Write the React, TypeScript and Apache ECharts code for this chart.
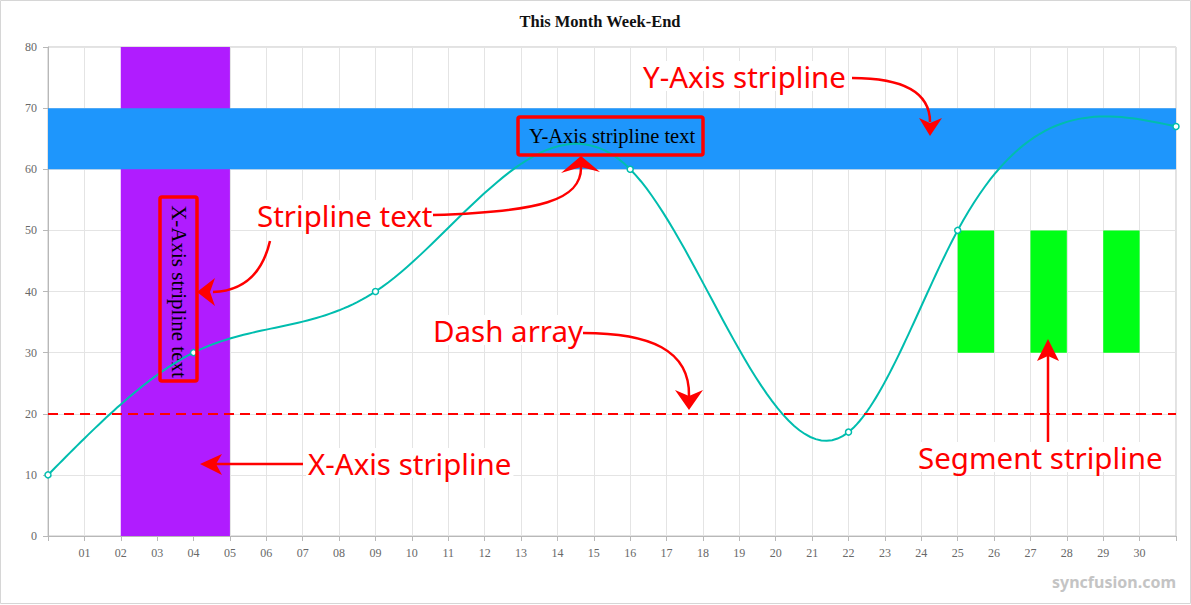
import React, { useEffect, useRef } from 'react';
import * as echarts from 'echarts';

const chartTitle = 'This Month Week-End';
const days = [0, 4, 9, 16, 22, 25, 31];
const values = [10, 30, 40, 60, 17, 50, 67];
const xAxisRange = [0, 31];
const yAxisRange = [0, 80];
const xStrip = [2, 5];
const xStripText = 'X-Axis stripline text';
const yStrip = [60, 70];
const yStripText = 'Y-Axis stripline text';
const dashLineValue = 20;
const segmentStarts = [25, 27, 29];
const segmentEnds = [26, 28, 30];
const segmentRange = [30, 50];

const LINE_COLOR = '#00BDAE';
const RED = '#FF0000';

// natural cubic spline second derivatives
function splineSecond(xs: number[], ys: number[]) {
  const n = xs.length;
  const h: number[] = [];
  for (let i = 0; i < n - 1; i++) h.push(xs[i + 1] - xs[i]);
  const a: number[] = new Array(n).fill(0);
  const b: number[] = new Array(n).fill(1);
  const c: number[] = new Array(n).fill(0);
  const d: number[] = new Array(n).fill(0);
  for (let i = 1; i < n - 1; i++) {
    a[i] = h[i - 1];
    b[i] = 2 * (h[i - 1] + h[i]);
    c[i] = h[i];
    d[i] = 6 * ((ys[i + 1] - ys[i]) / h[i] - (ys[i] - ys[i - 1]) / h[i - 1]);
  }
  const cp = new Array(n).fill(0);
  const dp = new Array(n).fill(0);
  cp[0] = c[0] / b[0];
  dp[0] = d[0] / b[0];
  for (let i = 1; i < n; i++) {
    const m = b[i] - a[i] * cp[i - 1];
    cp[i] = c[i] / m;
    dp[i] = (d[i] - a[i] * dp[i - 1]) / m;
  }
  const M = new Array(n).fill(0);
  M[n - 1] = dp[n - 1];
  for (let i = n - 2; i >= 0; i--) M[i] = dp[i] - cp[i] * M[i + 1];
  return M;
}

function splineAt(xs: number[], ys: number[], M: number[], i: number, x: number) {
  const h = xs[i + 1] - xs[i];
  const A = xs[i + 1] - x;
  const B = x - xs[i];
  return (
    (M[i] * A * A * A) / (6 * h) +
    (M[i + 1] * B * B * B) / (6 * h) +
    (ys[i] / h - (M[i] * h) / 6) * A +
    (ys[i + 1] / h - (M[i + 1] * h) / 6) * B
  );
}

const pad2 = (v: number) => (v < 10 ? '0' + v : '' + v);

export default function App() {
  const ref = useRef<HTMLDivElement>(null);
  useEffect(() => {
    if (!ref.current) return;
    const chart = echarts.init(ref.current, null, { renderer: 'svg' });
    const pts = days.map((d, i) => [d, values[i]]);
    const M = splineSecond(days, values);
    const serif = 'Liberation Serif';
    const ann = 'Noto Sans';

    const segAreas = segmentStarts.map((s, i) => [
      { coord: [s, segmentRange[0]], itemStyle: { color: '#00FF16' } },
      { coord: [segmentEnds[i], segmentRange[1]] },
    ]);

    const annText = (text: string, x: number, y: number) => ({
      type: 'text',
      z: 100,
      style: {
        text,
        x,
        y,
        fill: RED,
        fontSize: 29.5,
        fontFamily: ann,
        align: 'left',
        verticalAlign: 'middle',
        backgroundColor: '#fff',
        padding: [0, 2],
      },
    });
    const curve = (x1: number, y1: number, cpx1: number, cpy1: number, cpx2: number, cpy2: number, x2: number, y2: number) => ({
      type: 'bezierCurve',
      z: 100,
      shape: { x1, y1, cpx1, cpy1, cpx2, cpy2, x2, y2 },
      style: { stroke: RED, lineWidth: 2.5, fill: 'none' },
    });
    const line = (x1: number, y1: number, x2: number, y2: number) => ({
      type: 'line',
      z: 100,
      shape: { x1, y1, x2, y2 },
      style: { stroke: RED, lineWidth: 2.5 },
    });
    const head = (points: number[][]) => ({
      type: 'polygon',
      z: 100,
      shape: { points },
      style: { fill: RED },
    });
    const box = (x: number, y: number, width: number, height: number) => ({
      type: 'rect',
      z: 100,
      shape: { x, y, width, height, r: 2 },
      style: { fill: 'none', stroke: RED, lineWidth: 3.5 },
    });

    chart.setOption({
      animation: false,
      backgroundColor: '#fff',
      title: {
        text: chartTitle,
        left: 595,
        top: 8,
        textAlign: 'center',
        textStyle: { fontFamily: serif, fontSize: 16.5, fontWeight: 'bold', color: '#111' },
      },
      grid: {
        left: 48,
        right: 15,
        top: 47,
        bottom: 69,
        show: true,
        borderColor: '#c4c4c4',
        borderWidth: 1,
      },
      xAxis: {
        type: 'value',
        min: xAxisRange[0],
        max: xAxisRange[1],
        interval: 1,
        axisLine: { show: true, lineStyle: { color: '#b8b8b8', width: 1 } },
        axisTick: { show: true, length: 5, lineStyle: { color: '#b8b8b8' } },
        splitLine: { show: true, lineStyle: { color: '#e4e4e4', width: 1 } },
        axisLabel: {
          fontFamily: serif,
          fontSize: 12,
          color: '#686868',
          margin: 11,
          showMinLabel: true,
          showMaxLabel: true,
          formatter: (v: number) => (v <= xAxisRange[0] || v >= xAxisRange[1] ? '' : pad2(v)),
        },
      },
      yAxis: {
        type: 'value',
        min: yAxisRange[0],
        max: yAxisRange[1],
        interval: 10,
        axisLine: { show: true, lineStyle: { color: '#b8b8b8', width: 1 } },
        axisTick: { show: true, length: 5, lineStyle: { color: '#b8b8b8' } },
        splitLine: { show: true, lineStyle: { color: '#e4e4e4', width: 1 } },
        axisLabel: { fontFamily: serif, fontSize: 12, color: '#686868', margin: 11 },
      },
      series: [
        {
          type: 'custom',
          name: 'curve',
          z: 2,
          data: pts,
          encode: { x: 0, y: 1 },
          renderItem: (params: any, api: any) => {
            if (params.dataIndex !== 0) return null;
            const poly: number[][] = [];
            for (let i = 0; i < days.length - 1; i++) {
              const steps = 40;
              for (let k = 0; k <= steps; k++) {
                if (i > 0 && k === 0) continue;
                const x = days[i] + ((days[i + 1] - days[i]) * k) / steps;
                poly.push(api.coord([x, splineAt(days, values, M, i, x)]));
              }
            }
            return {
              type: 'polyline',
              shape: { points: poly },
              style: { fill: 'none', stroke: LINE_COLOR, lineWidth: 2 },
            };
          },
        },
        {
          type: 'line',
          name: 'points',
          z: 3,
          data: pts,
          symbol: 'circle',
          symbolSize: 6,
          showSymbol: true,
          lineStyle: { width: 0, opacity: 0 },
          itemStyle: { color: '#fff', borderColor: LINE_COLOR, borderWidth: 1.5 },
          markArea: {
            silent: true,
            data: [
              [
                {
                  xAxis: xStrip[0],
                  itemStyle: { color: '#B01CFF' },
                  label: {
                    show: true,
                    position: 'inside',
                    rotate: -90,
                    formatter: xStripText,
                    fontFamily: serif,
                    fontSize: 21,
                    color: '#000',
                    offset: [0, -4],
                  },
                },
                { xAxis: xStrip[1] },
              ],
              [
                {
                  yAxis: yStrip[0],
                  itemStyle: { color: '#1E96FC' },
                  label: {
                    show: true,
                    position: 'inside',
                    formatter: yStripText,
                    fontFamily: serif,
                    fontSize: 20.5,
                    color: '#000',
                    offset: [0, -3],
                  },
                },
                { yAxis: yStrip[1] },
              ],
              ...segAreas,
            ],
          },
          markLine: {
            silent: true,
            symbol: ['none', 'none'],
            label: { show: false },
            lineStyle: { color: RED, type: [10, 6], width: 2 },
            data: [{ yAxis: dashLineValue }],
          },
        },
      ],
      graphic: [
        {
          type: 'rect',
          z: 100,
          shape: { x: 0.5, y: 0.5, width: 1190, height: 603 },
          style: { fill: 'none', stroke: '#d6d6d6', lineWidth: 1 },
        },
        box(518, 117, 185, 38),
        box(160, 197, 37, 184),
        annText('Y-Axis stripline', 641, 76),
        curve(852, 78, 902, 78, 930, 92, 930, 122),
        head([[919, 118], [930, 123], [942, 118], [930, 136]]),
        annText('Stripline text', 255, 215),
        curve(433, 215, 540, 212, 582, 200, 581, 167),
        head([[561, 173], [581, 167], [600, 172], [581, 156]]),
        curve(270, 241, 262, 275, 242, 291, 213, 292),
        head([[215, 278], [210, 292], [215, 306], [197, 292]]),
        annText('Dash array', 431, 330),
        curve(583, 333, 650, 333, 690, 350, 689, 396),
        head([[675, 390], [689, 396], [703, 390], [689, 410]]),
        annText('X-Axis stripline', 306, 463),
        line(303, 464, 216, 464),
        head([[222, 454], [216, 464], [222, 475], [200, 464]]),
        annText('Segment stripline', 916, 457),
        line(1048, 442, 1048, 356),
        head([[1037, 361], [1048, 356], [1059, 361], [1048, 339]]),
        {
          type: 'text',
          z: 100,
          style: {
            text: 'syncfusion.com',
            x: 1176,
            y: 582,
            align: 'right',
            verticalAlign: 'middle',
            fill: '#c4c4c4',
            fontSize: 16,
            fontWeight: 'bold',
            fontFamily: ann,
          },
        },
      ],
    });
    return () => chart.dispose();
  }, []);
  return <div ref={ref} style={{ position: 'fixed', left: 0, top: 0, width: 1191, height: 605 }} />;
}
